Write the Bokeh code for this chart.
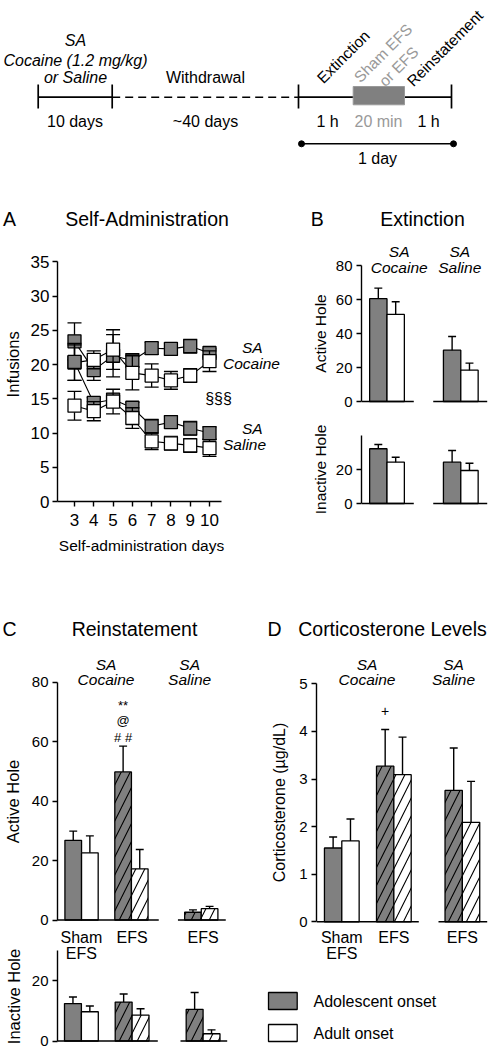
import math
from bokeh.plotting import figure
from bokeh.layouts import column, row
from bokeh.models import Range1d, FixedTicker, Label
from bokeh.embed import file_html
from bokeh.resources import INLINE
from bokeh.core.properties import value

# ---------------- data ----------------
# A: self-administration, infusions (mean, SEM)
sa_days = [3, 4, 5, 6, 7, 8, 9, 10]
sa_coc_adol = [23.4, 19.2, 21.3, 20.6, 22.4, 22.3, 22.7, 21.7]
sa_coc_adol_sem = [2.7, 1.5, 3.1, 1.0, 0.9, 0.9, 1.0, 0.6]
sa_coc_adult = [20.3, 20.7, 22.2, 18.8, 18.4, 17.7, 18.4, 20.5]
sa_coc_adult_sem = [2.6, 1.3, 2.9, 2.5, 1.7, 1.3, 1.0, 1.5]
sa_sal_adol = [20.4, 14.4, 14.9, 13.7, 11.0, 11.6, 10.7, 10.0]
sa_sal_adol_sem = [2.7, 0.8, 0.8, 0.8, 1.0, 0.9, 1.0, 0.9]
sa_sal_adult = [14.0, 13.2, 14.6, 12.2, 8.8, 8.5, 8.2, 7.8]
sa_sal_adult_sem = [2.1, 1.4, 1.8, 1.5, 1.2, 1.0, 1.0, 1.2]
sa_yticks = [0, 5, 10, 15, 20, 25, 30, 35]

# B: extinction (nose pokes)
ext_groups = ["SA\nCocaine", "SA\nSaline"]
ext_active_adol = [60.5, 30.2]
ext_active_adol_sem = [6.2, 8.0]
ext_active_adult = [51.2, 18.4]
ext_active_adult_sem = [7.5, 4.2]
ext_inactive_adol = [32.2, 24.3]
ext_inactive_adol_sem = [2.5, 6.9]
ext_inactive_adult = [24.3, 19.4]
ext_inactive_adult_sem = [2.9, 4.3]

# C: reinstatement and D: corticosterone
rein_conditions = ["Sham\nEFS", "EFS", "EFS"]
rein_shock = [False, True, True]
rein_groups = ["SA\nCocaine", "SA\nSaline"]
rein_active_adol = [26.8, 49.8, 2.6]
rein_active_adol_sem = [3.1, 8.7, 0.8]
rein_active_adult = [22.6, 17.2, 3.8]
rein_active_adult_sem = [5.7, 6.5, 0.8]
rein_inactive_adol = [12.4, 12.9, 10.5]
rein_inactive_adol_sem = [2.2, 2.7, 5.6]
rein_inactive_adult = [9.7, 8.6, 2.4]
rein_inactive_adult_sem = [1.9, 2.1, 1.3]
cort_adol = [1.55, 3.27, 2.76]
cort_adol_sem = [0.23, 0.77, 0.89]
cort_adult = [1.70, 3.09, 2.09]
cort_adult_sem = [0.46, 0.79, 0.86]

legend_labels = ["Adolescent onset", "Adult onset"]

# titles
panel_titles = [("A", "Self-Administration"), ("B", "Extinction"),
                ("C", "Reinstatement"), ("D", "Corticosterone Levels")]
y_titles = ["Infusions", "Active Hole", "Inactive Hole", "Active Hole",
            "Inactive Hole", "Corticosterone (µg/dL)"]
x_title_a = "Self-administration days"

# timeline texts
tl_stage = ["SA", "Cocaine (1.2 mg/kg)", "or Saline"]
tl_durations = ["10 days", "~40 days", "1 h", "20 min", "1 h", "1 day"]
tl_phases = ["Extinction", "Sham EFS", "or EFS", "Reinstatement"]

# ---------------- styling / layout ----------------
FONT = "Liberation Sans"
GRAY = "#808080"
TGRAY = "#999999"


def make_panel(ox, oy, w, h, frame, xmap, ymap, xaxis=False, yaxis=False):
    fl, fr, ft, fb = frame
    mbl = max(0, round(fl - ox))
    mbr = max(0, round(ox + w - fr))
    mbt = max(0, round(ft - oy))
    mbb = max(0, round(oy + h - fb))
    fl2, fr2, ft2, fb2 = ox + mbl, ox + w - mbr, oy + mbt, oy + h - mbb
    x0, xs = xmap
    y0, ys = ymap

    def dx(r):
        return (r - x0) / xs

    def dy(r):
        return (y0 - r) / ys

    p = figure(width=w, height=h,
               x_range=Range1d(dx(fl2), dx(fr2)),
               y_range=Range1d(dy(fb2), dy(ft2)),
               output_backend="svg", toolbar_location=None,
               x_axis_location="below" if xaxis else None,
               y_axis_location="left" if yaxis else None,
               min_border_left=mbl, min_border_right=mbr,
               min_border_top=mbt, min_border_bottom=mbb)
    p.outline_line_color = None
    p.background_fill_color = "white"
    p.border_fill_color = "white"
    p.grid.visible = False
    return p, dx, dy


def canvas(ox, oy, w, h):
    """A plain drawing area whose data coordinates are page pixels (y down)."""
    p, _, _ = make_panel(ox, oy, w, h, (ox, ox + w, oy, oy + h), (0, 1), (0, -1))
    return p


def txt(p, x, y, text, size, style="normal", color="black", align="center",
        baseline="middle", angle=0.0):
    p.add_layout(Label(x=x, y=y, text=text, text_font=FONT,
                       text_font_size=f"{size}px", text_font_style=style,
                       text_color=color, text_align=align,
                       text_baseline=baseline, angle=angle))


def style_axis(ax, ticks, bounds, tick_size, tick_standoff=4):
    ax.ticker = FixedTicker(ticks=ticks)
    if bounds is not None:
        ax.bounds = bounds
    ax.major_label_text_font = FONT
    ax.major_label_text_font_size = f"{tick_size}px"
    ax.major_label_text_color = "black"
    ax.major_label_standoff = tick_standoff
    ax.major_tick_in = 0
    ax.major_tick_out = 5
    ax.minor_tick_line_color = None
    ax.axis_line_width = 1.4
    ax.major_tick_line_width = 1.4
    ax.axis_line_color = "black"
    ax.major_tick_line_color = "black"


def bars(p, pos, adol, adol_sem, adult, adult_sem, shock, cap):
    hatch = ["/" if s else " " for s in shock]
    for off, vals, sems, fill in ((-0.5, adol, adol_sem, GRAY),
                                  (0.5, adult, adult_sem, "white")):
        xs = [c + off for c in pos]
        p.vbar(x=xs, top=vals, bottom=0, width=1.0, fill_color=fill,
               line_color="black", line_width=1.3, hatch_pattern=hatch,
               hatch_color="black", hatch_weight=1.1, hatch_scale=18)
        hi = [v + e for v, e in zip(vals, sems)]
        p.segment(x0=xs, y0=vals, x1=xs, y1=hi, line_color="black", line_width=1.4)
        p.segment(x0=[x - cap for x in xs], y0=hi, x1=[x + cap for x in xs], y1=hi,
                  line_color="black", line_width=1.4)


def baselines(p, dx, spans):
    p.segment(x0=[dx(a) for a, b in spans], y0=[0] * len(spans),
              x1=[dx(b) for a, b in spans], y1=[0] * len(spans),
              line_color="black", line_width=1.4)


VERT = math.pi / 2

# ---------------- timeline ----------------
pt = canvas(0, 0, 488, 172)
TLY = 96.7
pt.segment(x0=[37.7, 298], y0=[TLY, TLY], x1=[111.7, 451], y1=[TLY, TLY],
           line_color="black", line_width=1.7)
pt.segment(x0=[111.7], y0=[TLY], x1=[298], y1=[TLY], line_color="black",
           line_width=1.5, line_dash="8 5")
tks = [37.7, 111.7, 298, 451]
pt.segment(x0=tks, y0=[84] * 4, x1=tks, y1=[108] * 4, line_color="black", line_width=1.7)
pt.quad(left=[352.7], right=[404], top=[86], bottom=[104.3], fill_color=GRAY,
        line_color=TGRAY, line_width=1)
pt.segment(x0=[301], y0=[143.3], x1=[453], y1=[143.3], line_color="black", line_width=1.6)
pt.scatter(x=[301, 453], y=[143.3, 143.3], size=6, marker="circle",
           fill_color="black", line_color="black")
for t, y in zip(tl_stage, [40, 59.5, 76.5]):
    txt(pt, 75, y, t, 16, style="italic")
txt(pt, 205, 77, "Withdrawal", 16)
for t, x, col in zip(tl_durations[:5], [74.5, 205, 327, 378, 428],
                     ["black", "black", "black", TGRAY, "black"]):
    txt(pt, x, 120.5, t, 16, color=col)
txt(pt, 377, 158, tl_durations[5], 16)
for t, (x, y), col in zip(tl_phases, [(319, 80), (356, 79), (381, 83), (409, 83)],
                          ["black", TGRAY, TGRAY, "black"]):
    txt(pt, x, y, t, 15.5, color=col, align="left", baseline="alphabetic",
        angle=math.pi / 4)

# ---------------- title strips ----------------
ps1 = canvas(0, 172, 488, 68)
ps2 = canvas(0, 566, 488, 79)
for strip, (letter, title), (lx, tx, yy) in zip(
        [ps1, ps1, ps2, ps2], panel_titles,
        [(9, 146.5, 218), (316.7, 422, 218.3), (9, 134, 628), (274, 392, 628)]):
    txt(strip, lx, yy, letter, 19.5)
    txt(strip, tx, yy, title, 19.5)

# ---------------- A: self-administration ----------------
la = canvas(0, 240, 26, 295)
txt(la, 12.5, 380, y_titles[0], 16.5, angle=VERT)
pa, ax_, ay_ = make_panel(26, 240, 264, 295, (57, 290, 240, 501),
                          (74 - 3 * 19.286, 19.286), (501, 6.843),
                          xaxis=True, yaxis=True)
style_axis(pa.yaxis[0], sa_yticks, (0, 35), 17, 3)
style_axis(pa.xaxis[0], sa_days, (ax_(57), ax_(221)), 17, 7)
capA = 7 / 19.286
for vals, sems, fill in ((sa_coc_adol, sa_coc_adol_sem, GRAY),
                         (sa_coc_adult, sa_coc_adult_sem, "white"),
                         (sa_sal_adol, sa_sal_adol_sem, GRAY),
                         (sa_sal_adult, sa_sal_adult_sem, "white")):
    pa.line(sa_days, vals, line_color="black", line_width=1.1)
    lo = [v - e for v, e in zip(vals, sems)]
    hi = [v + e for v, e in zip(vals, sems)]
    pa.segment(x0=sa_days, y0=lo, x1=sa_days, y1=hi, line_color="black", line_width=1.3)
    pa.segment(x0=[d - capA for d in sa_days], y0=hi, x1=[d + capA for d in sa_days],
               y1=hi, line_color="black", line_width=1.3)
    pa.segment(x0=[d - capA for d in sa_days], y0=lo, x1=[d + capA for d in sa_days],
               y1=lo, line_color="black", line_width=1.3)
    pa.scatter(sa_days, vals, marker="square", size=13, fill_color=fill,
               line_color="black", line_width=1.3)
for lines, ys in ((ext_groups[0], (347, 363)), (ext_groups[1], (428, 444))):
    l1, l2 = lines.split("\n")
    txt(pa, ax_(241.5), ay_(ys[0]), l1, 15.5, style="italic", align="left")
    txt(pa, ax_(222.5), ay_(ys[1]), l2, 15.5, style="italic", align="left")
txt(pa, ax_(218), ay_(398), "§§§", 16)
xa = canvas(0, 535, 290, 31)
txt(xa, 141, 545, x_title_a, 15.5)

# ---------------- B: extinction ----------------
lb = canvas(290, 240, 42, 326)
txt(lb, 320, 333, y_titles[1], 15.5, angle=VERT)
txt(lb, 320, 469, y_titles[2], 15.5, angle=VERT)
B_POS = [1, 5.25]
pb1, bx1, by1 = make_panel(332, 240, 156, 178, (360, 488, 240, 404),
                           (385.7 - 17.5, 17.5), (401, 1.7), yaxis=True)
style_axis(pb1.yaxis[0], [0, 20, 40, 60, 80], (0, 80), 15)
bars(pb1, B_POS, ext_active_adol, ext_active_adol_sem, ext_active_adult,
     ext_active_adult_sem, [False, False], 4 / 17.5)
baselines(pb1, bx1, [(360, 412.7), (432.3, 486.7)])
for g, gx in zip(ext_groups, [398, 459]):
    l1, l2 = g.split("\n")
    txt(pb1, bx1(gx), by1(250.5), l1, 15.5, style="italic")
    txt(pb1, bx1(gx), by1(266.5), l2, 15.5, style="italic")

pb2, bx2, by2 = make_panel(332, 418, 156, 148, (360, 488, 418, 506),
                           (385.7 - 17.5, 17.5), (503, 1.7), yaxis=True)
style_axis(pb2.yaxis[0], [0, 20], (0, 40), 15)
bars(pb2, B_POS, ext_inactive_adol, ext_inactive_adol_sem, ext_inactive_adult,
     ext_inactive_adult_sem, [False, False], 4 / 17.5)
baselines(pb2, bx2, [(360, 412.7), (432.3, 486.7)])

# ---------------- C: reinstatement ----------------
lc = canvas(0, 645, 26, 405)
txt(lc, 12.5, 801, y_titles[3], 16.5, angle=VERT)
txt(lc, 13.5, 996, y_titles[4], 16.5, angle=VERT)
C_POS = [1, 4, 8.2]
pc1, cx1, cy1 = make_panel(26, 645, 224, 283, (55, 250, 645, 922),
                           (62.5, 16.8), (919.5, 2.9725), yaxis=True)
style_axis(pc1.yaxis[0], [0, 20, 40, 60, 80], (0, 80), 15)
bars(pc1, C_POS, rein_active_adol, rein_active_adol_sem, rein_active_adult,
     rein_active_adult_sem, rein_shock, 4 / 16.8)
baselines(pc1, cx1, [(55, 157.3), (176.7, 225)])
for g, gx in zip(rein_groups, [104, 188.5]):
    l1, l2 = g.split("\n")
    txt(pc1, cx1(gx), cy1(664), l1, 15.5, style="italic")
    txt(pc1, cx1(gx), cy1(679), l2, 15.5, style="italic")
for s, yy in zip(["**", "@", "# #"], [705, 720, 737]):
    txt(pc1, C_POS[1] - 0.5, cy1(yy), s, 13)

pc2, cx2, cy2 = make_panel(26, 928, 224, 122, (57, 250, 928, 1042),
                           (64, 16.9), (1040.5, 3.017), yaxis=True)
style_axis(pc2.yaxis[0], [0, 20], (0, 30), 15)
bars(pc2, C_POS, rein_inactive_adol, rein_inactive_adol_sem, rein_inactive_adult,
     rein_inactive_adult_sem, rein_shock, 4 / 16.9)
baselines(pc2, cx2, [(57, 157.3), (180, 226.7)])
for c, pos in zip(rein_conditions, C_POS):
    for k, ln in enumerate(c.split("\n")):
        txt(pc2, pos, cy2(937 + 16 * k), ln, 16)

# ---------------- D: corticosterone ----------------
ld = canvas(250, 645, 43, 330)
txt(ld, 278.5, 802, y_titles[5], 16, angle=VERT)
D_POS = [1, 4, 7.95]
pd, dx_, dy_ = make_panel(293, 645, 195, 330, (316, 488, 645, 975),
                          (341.3 - 17.35, 17.35), (921.3, 47.6), yaxis=True)
style_axis(pd.yaxis[0], [0, 1, 2, 3, 4, 5], (0, 5), 15)
bars(pd, D_POS, cort_adol, cort_adol_sem, cort_adult, cort_adult_sem, rein_shock,
     4 / 17.35)
baselines(pd, dx_, [(316, 418.3), (438, 486.7)])
for g, gx in zip(rein_groups, [366.5, 453]):
    l1, l2 = g.split("\n")
    txt(pd, dx_(gx), dy_(664), l1, 15.5, style="italic")
    txt(pd, dx_(gx), dy_(679), l2, 15.5, style="italic")
txt(pd, D_POS[1] - 0.5, dy_(710), "+", 14)
for c, pos in zip(rein_conditions, D_POS):
    for k, ln in enumerate(c.split("\n")):
        txt(pd, pos, dy_(937 + 16 * k), ln, 16)

# ---------------- legend ----------------
pl = canvas(250, 975, 238, 75)
tops = [992, 1024]
pl.quad(left=[268, 268], right=[296.7, 296.7], top=tops, bottom=[t + 17 for t in tops],
        fill_color=[GRAY, "white"], line_color="black", line_width=1.3)
pl.text(x=[313, 313], y=[t + 8.5 for t in tops], text=legend_labels,
        text_font=value(FONT), text_font_size="16px", text_align="left",
        text_baseline="middle", text_color="black")

layout = column(
    pt, ps1,
    row(column(row(la, pa), xa), lb, column(pb1, pb2)),
    ps2,
    row(lc, column(pc1, pc2), column(row(ld, pd), pl)),
)

open("out.html", "w", encoding="utf-8").write(file_html(layout, INLINE))
